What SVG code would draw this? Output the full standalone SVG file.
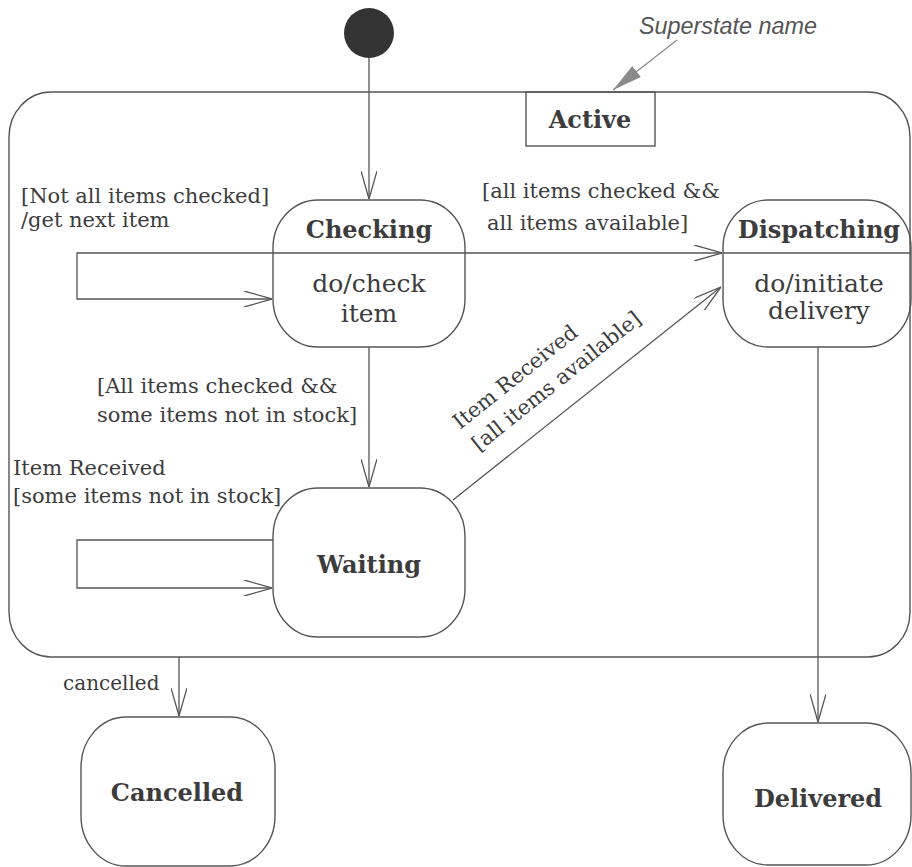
<svg xmlns="http://www.w3.org/2000/svg" width="912" height="867" viewBox="0 0 912 867">
<style>
.shape{fill:none;stroke:#555;stroke-width:1.4}
.conn{fill:none;stroke:#555;stroke-width:1.3}
.lbl{font-family:"DejaVu Serif","Liberation Serif",serif;font-size:21px;fill:#3c3c3c}
.title{font-family:"DejaVu Serif","Liberation Serif",serif;font-size:24px;font-weight:bold;fill:#3c3c3c;text-anchor:middle}
.body{font-family:"DejaVu Serif","Liberation Serif",serif;font-size:25px;fill:#3c3c3c;text-anchor:middle}
.note{font-family:"Liberation Sans",Arial,sans-serif;font-size:23px;font-style:italic;fill:#555}
</style>
<defs>
<marker id="open" viewBox="0 0 28 16" refX="28" refY="8" markerWidth="28" markerHeight="16" markerUnits="userSpaceOnUse" orient="auto">
<path d="M0,0 L28,8 L0,16" fill="none" stroke="#555" stroke-width="1.3"/>
</marker>
<marker id="filled" viewBox="0 0 30 14" refX="30" refY="7" markerWidth="30" markerHeight="14" markerUnits="userSpaceOnUse" orient="auto">
<path d="M0,0 L30,7 L0,14 Z" fill="#8a8a8a" stroke="none"/>
</marker>
</defs>
<rect width="912" height="867" fill="#fff"/>

<g id="initial">
<circle cx="369" cy="33" r="25" fill="#333"/>
</g>

<g id="active">
<rect class="shape" x="9" y="92" width="901" height="565" rx="42" ry="45"/>
<rect class="shape" x="526" y="92" width="129" height="54"/>
<text class="title" x="590" y="128">Active</text>
</g>

<g id="annotation">
<text class="note" x="639" y="34" textLength="178" lengthAdjust="spacingAndGlyphs">Superstate name</text>
<line x1="677" y1="40" x2="613" y2="90" stroke="#888" stroke-width="1.2" marker-end="url(#filled)"/>
</g>

<g id="checking">
<rect class="shape" x="273" y="200" width="192" height="147" rx="45" ry="48"/>
<line class="shape" x1="273" y1="253" x2="465" y2="253"/>
<text class="title" x="369" y="238">Checking</text>
<text class="body" x="369" y="292">do/check</text>
<text class="body" x="369" y="322">item</text>
</g>

<g id="dispatching">
<rect class="shape" x="723" y="200" width="188" height="147" rx="45" ry="48"/>
<line class="shape" x1="723" y1="253" x2="911" y2="253"/>
<text class="title" x="819" y="238">Dispatching</text>
<text class="body" x="819" y="292">do/initiate</text>
<text class="body" x="819" y="319">delivery</text>
</g>

<g id="waiting">
<rect class="shape" x="273" y="488" width="192" height="149" rx="45" ry="48"/>
<text class="title" x="369" y="573">Waiting</text>
</g>

<g id="cancelled">
<rect class="shape" x="81" y="717" width="194" height="149" rx="45" ry="50"/>
<text class="title" x="177" y="801">Cancelled</text>
</g>

<g id="delivered">
<rect class="shape" x="723" y="723" width="188" height="142" rx="45" ry="50"/>
<text class="title" x="818" y="807">Delivered</text>
</g>

<g id="connectors">
<path class="conn" d="M369,58 V199" marker-end="url(#open)"/>
<path class="conn" d="M273,253 H77 V299 H272" marker-end="url(#open)"/>
<path class="conn" d="M465,253 H722" marker-end="url(#open)"/>
<path class="conn" d="M369,347 V487" marker-end="url(#open)"/>
<path class="conn" d="M273,540 H77 V588 H272" marker-end="url(#open)"/>
<path class="conn" d="M453,500 L721,287" marker-end="url(#open)"/>
<path class="conn" d="M818,347 V722" marker-end="url(#open)"/>
<path class="conn" d="M179,657 V716" marker-end="url(#open)"/>
</g>

<g id="labels">
<text class="lbl" x="21" y="203">[Not all items checked]</text>
<text class="lbl" x="21" y="227">/get next item</text>
<text class="lbl" x="482" y="198">[all items checked &amp;&amp;</text>
<text class="lbl" x="487" y="230">all items available]</text>
<text class="lbl" x="97" y="393">[All items checked &amp;&amp;</text>
<text class="lbl" x="97" y="422">some items not in stock]</text>
<text class="lbl" x="13" y="475">Item Received</text>
<text class="lbl" x="13" y="503">[some items not in stock]</text>
<text class="lbl" transform="translate(460,430) rotate(-38.6)">Item Received</text>
<text class="lbl" transform="translate(479,452) rotate(-38.6)">[all items available]</text>
<text class="lbl" x="63" y="690" style="font-size:20px">cancelled</text>
</g>
</svg>
